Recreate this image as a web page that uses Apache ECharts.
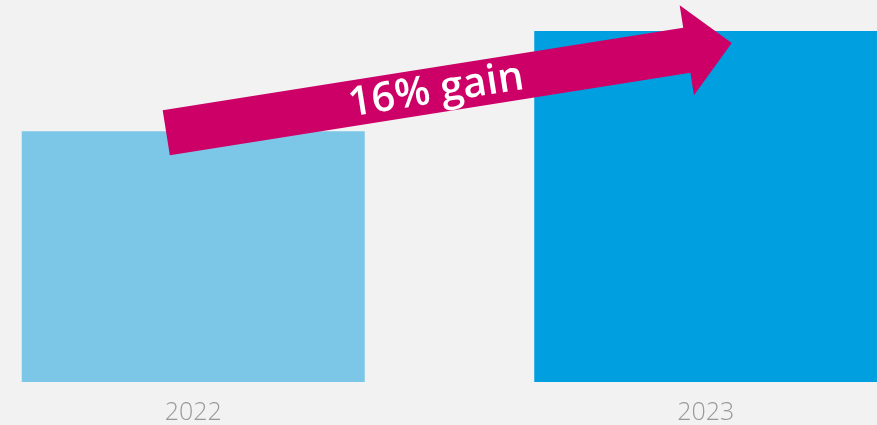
<!DOCTYPE html>
<html>
<head>
<meta charset="utf-8">
<script src="https://cdn.jsdelivr.net/npm/echarts@6/dist/echarts.min.js"></script>
<style>
  html, body { margin: 0; padding: 0; background: #f2f2f2; }
  #chart { width: 877px; height: 425px; }
</style>
</head>
<body>
<div id="chart"></div>
<script>
// Year-over-year comparison: two bars with a growth arrow between them
const categories = ['2022', '2023'];
const values = [100, 116];
const barColors = ['#7cc7e7', '#009fdf'];
const gainLabel = '16% gain';

const chart = echarts.init(document.getElementById('chart'), null, { renderer: 'canvas' });

chart.setOption({
  backgroundColor: '#f2f2f2',
  animation: false,
  grid: { left: -63, right: -85, top: 6, bottom: 43, outerBoundsMode: 'none', containLabel: false },
  xAxis: {
    type: 'category',
    data: categories,
    axisLine: { show: false },
    axisTick: { show: false },
    axisLabel: {
      color: '#999999',
      fontSize: 25,
      fontFamily: 'Open Sans',
      fontWeight: 300,
      margin: 18
    }
  },
  yAxis: {
    type: 'value',
    min: 60,
    max: 120,
    show: false,
    splitLine: { show: false }
  },
  series: [{
    type: 'bar',
    barWidth: 343,
    data: values.map((v, i) => ({ value: v, itemStyle: { color: barColors[i] } }))
  }]
});

// Growth arrow: runs from the top of the first bar up to the top of the second
const p0 = chart.convertToPixel({ seriesIndex: 0 }, [0, values[0]]);
const p1 = chart.convertToPixel({ seriesIndex: 0 }, [1, values[1]]);
const tail = [p0[0] - 27, p0[1] + 1.5];
const tip = [p1[0] + 26, p1[1] + 12];
const dx = tip[0] - tail[0], dy = tip[1] - tail[1];
const len = Math.hypot(dx, dy);
const ux = dx / len, uy = dy / len;     // along the arrow
const nx = -uy, ny = ux;                // perpendicular
const shaftHalf = 22.75, headHalf = 45.5, headLen = 45.5;
const pt = (a, b) => [tail[0] + ux * a + nx * b, tail[1] + uy * a + ny * b];
const arrowPts = [
  pt(0, -shaftHalf),
  pt(len - headLen, -shaftHalf),
  pt(len - headLen, -headHalf),
  pt(len, 0),
  pt(len - headLen, headHalf),
  pt(len - headLen, shaftHalf),
  pt(0, shaftHalf)
];
const textPos = pt(len * 0.477, 1);
const angle = Math.atan2(-dy, dx);

chart.setOption({
  graphic: [
    {
      type: 'polygon',
      shape: { points: arrowPts },
      style: { fill: '#cc0066' },
      z: 10
    },
    {
      type: 'text',
      x: textPos[0],
      y: textPos[1],
      rotation: angle,
      style: {
        text: gainLabel,
        fill: '#ffffff',
        font: '600 41px "Open Sans"',
        align: 'center',
        verticalAlign: 'middle'
      },
      z: 11
    }
  ]
});
</script>
</body>
</html>
